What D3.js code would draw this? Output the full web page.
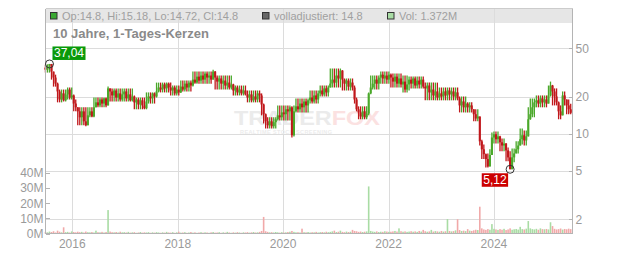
<!DOCTYPE html>
<html lang="de">
<head>
  <meta charset="UTF-8">
  <title>10 Jahre, 1-Tages-Kerzen</title>
  <script src="https://d3js.org/d3.v7.min.js"></script>
  <style>
    body {
      margin: 0;
      background: #fff;
    }

    svg {
      display: block;
      font-family: "Liberation Sans", Arial, sans-serif;
    }

    .grid line {
      stroke: #dcdcdc;
      shape-rendering: crispEdges;
    }

    .axis text {
      fill: #9a9a9a;
      font-size: 12px;
    }

    .frame {
      stroke: #b4b4b4;
      shape-rendering: crispEdges;
    }
  </style>
</head>
<body>
  <div id="chart"></div>

  <script>
    // Kerzen alle 14 Tage, ab Startdatum
    const startDate = "2015-06-29";
    const stepDays = 14;
    const firstOpen = 34.6;

    const closes = [
      33.3, 35.9, 37.04, 32.1, 28.7, 25.6, 22.1, 19.0, 21.3, 18.7,
      20.9, 22.9, 19.7, 20.5, 17.6, 16.4, 15.2, 13.6, 15.2, 12.6,
      11.7, 14.1, 15.2, 13.8, 16.4, 18.0, 17.0, 19.0, 17.6, 19.4,
      17.0, 23.4, 22.1, 20.5, 22.5, 19.7, 21.3, 19.0, 20.9, 22.1,
      19.4, 20.9, 18.7, 20.1, 18.0, 19.0, 17.3, 18.7, 17.0, 16.1,
      18.3, 20.1, 19.4, 21.3, 20.1, 22.1, 23.8, 22.9, 25.2, 23.4,
      25.6, 23.8, 22.5, 23.8, 21.3, 22.9, 21.7, 24.2, 22.9, 25.6,
      23.8, 26.1, 24.7, 27.6, 26.1, 29.2, 27.1, 29.8, 27.6, 30.9,
      28.7, 29.8, 27.6, 32.1, 28.7, 26.6, 28.2, 25.6, 27.1, 24.7,
      26.1, 23.8, 25.2, 22.5, 23.8, 21.7, 22.9, 21.3, 22.5, 20.9,
      19.7, 20.9, 18.7, 20.1, 19.0, 21.3, 20.5, 17.3, 14.4, 12.6,
      11.7, 12.6, 11.5, 12.4, 13.1, 14.1, 13.6, 14.9, 14.4, 15.8,
      15.2, 16.4, 9.7, 15.2, 16.7, 15.8, 17.6, 16.4, 18.3, 17.0,
      18.7, 19.7, 18.3, 20.5, 19.0, 21.3, 22.5, 20.9, 23.4, 21.7,
      23.8, 25.6, 27.6, 26.1, 29.8, 28.2, 32.7, 27.6, 25.6, 27.1,
      24.2, 26.1, 23.8, 19.0, 15.8, 14.9, 13.8, 15.2, 13.6, 14.6,
      21.3, 23.8, 25.6, 27.6, 25.6, 28.7, 30.3, 28.2, 29.8, 27.6,
      30.3, 28.7, 26.6, 29.2, 25.6, 28.2, 25.2, 26.6, 22.9, 25.2,
      27.6, 25.6, 28.2, 24.7, 27.1, 25.2, 27.6, 24.2, 23.4, 24.7,
      21.7, 22.9, 20.5, 22.1, 19.7, 21.3, 20.1, 22.1, 20.5, 22.5,
      20.9, 22.1, 20.1, 21.7, 19.4, 17.0, 18.3, 16.4, 17.6, 16.4,
      17.0, 15.8, 14.4, 13.3, 13.8, 8.65, 7.45, 6.8, 6.2, 5.4,
      6.7, 9.3, 9.9, 9.0, 9.5, 8.5, 8.0, 8.3, 7.3, 6.4,
      5.12, 6.4, 6.9, 7.45, 8.0, 9.0, 9.7, 8.8, 9.5, 13.1,
      14.4, 16.4, 18.0, 18.7, 17.6, 19.4, 18.0, 19.0, 17.6, 20.5,
      24.7, 22.1, 20.1, 18.0, 15.2, 14.1, 20.5, 19.0, 17.0, 15.8,
      14.8
    ];

    const highs = [
      36.5, 36.8, 37.04, 35.2, 30.3, 30.3, 26.1, 22.9, 22.9, 22.9,
      22.9, 23.8, 23.8, 23.8, 20.9, 19.0, 16.4, 16.4, 16.4, 16.4,
      16.4, 16.4, 16.4, 16.4, 19.7, 19.7, 19.7, 19.7, 19.7, 19.7,
      19.7, 24.2, 23.4, 23.4, 23.4, 23.4, 23.4, 23.4, 23.4, 23.4,
      23.4, 23.4, 23.4, 23.4, 20.5, 19.7, 19.7, 19.7, 19.7, 19.7,
      21.7, 21.7, 21.7, 21.7, 21.7, 26.1, 26.1, 26.1, 26.1, 26.1,
      26.1, 26.1, 26.1, 24.7, 24.7, 24.7, 24.7, 27.1, 27.1, 27.1,
      27.1, 27.1, 27.1, 32.1, 32.1, 32.1, 32.1, 32.1, 32.1, 32.1,
      32.1, 32.1, 32.1, 33.3, 32.5, 29.8, 29.8, 29.8, 29.8, 29.8,
      29.8, 29.8, 29.8, 25.6, 24.7, 24.7, 24.7, 24.7, 24.7, 24.7,
      22.5, 22.5, 22.5, 22.5, 22.5, 22.5, 22.5, 21.3, 17.6, 14.6,
      13.6, 13.6, 13.6, 13.6, 13.6, 17.0, 17.0, 17.0, 17.0, 17.0,
      17.0, 17.0, 16.7, 17.0, 19.4, 19.4, 19.4, 19.4, 19.4, 19.4,
      19.4, 22.5, 22.5, 22.5, 22.5, 22.5, 24.7, 24.7, 24.7, 24.7,
      24.7, 34.0, 34.0, 34.0, 34.0, 34.0, 34.0, 33.0, 28.2, 28.2,
      28.2, 28.2, 28.2, 24.7, 19.7, 16.7, 16.7, 16.7, 16.7, 16.7,
      21.7, 29.8, 29.8, 29.8, 29.8, 29.8, 32.1, 32.1, 32.1, 32.1,
      32.1, 30.9, 30.9, 30.9, 30.9, 30.9, 30.9, 29.8, 29.8, 29.8,
      29.2, 29.2, 29.2, 29.2, 29.2, 29.2, 29.2, 29.2, 26.1, 26.1,
      26.1, 26.1, 26.1, 26.1, 26.1, 23.8, 23.8, 23.8, 23.8, 23.8,
      23.8, 23.8, 23.8, 23.8, 23.8, 20.1, 20.1, 20.1, 20.1, 18.0,
      18.0, 18.0, 15.8, 15.8, 15.8, 13.8, 8.9, 8.15, 6.9, 6.9,
      7.45, 10.2, 10.4, 10.4, 10.4, 9.6, 9.15, 9.15, 8.4, 7.7,
      7.2, 7.55, 7.55, 8.65, 8.65, 11.0, 11.0, 10.6, 10.6, 16.4,
      19.4, 19.4, 19.4, 20.5, 20.5, 20.5, 20.5, 20.5, 20.5, 24.7,
      26.6, 25.0, 23.4, 23.4, 18.3, 17.0, 22.1, 22.1, 19.0, 19.0,
      17.5
    ];

    const lows = [
      31.5, 31.5, 31.5, 27.6, 24.2, 24.2, 18.0, 18.0, 18.0, 18.3,
      18.3, 19.0, 19.0, 19.0, 15.2, 15.2, 11.7, 11.7, 11.7, 11.7,
      11.5, 13.6, 13.6, 13.6, 13.6, 16.4, 16.4, 16.4, 16.4, 16.4,
      16.4, 17.0, 18.3, 18.3, 18.3, 18.3, 18.3, 18.3, 18.3, 18.3,
      18.3, 18.3, 18.3, 18.3, 15.8, 15.8, 15.8, 15.8, 15.8, 15.8,
      15.8, 17.6, 17.6, 17.6, 17.6, 19.7, 21.7, 21.7, 21.7, 21.7,
      21.7, 21.7, 20.5, 20.5, 20.5, 20.5, 20.5, 21.5, 22.1, 22.1,
      22.1, 22.1, 22.1, 24.2, 25.6, 25.6, 25.6, 25.6, 25.6, 25.6,
      25.6, 25.6, 25.6, 27.6, 22.9, 22.9, 22.9, 22.9, 22.9, 22.9,
      22.9, 22.9, 22.9, 20.5, 20.5, 20.5, 20.5, 20.5, 20.5, 20.5,
      18.0, 18.0, 18.0, 18.0, 18.0, 18.0, 18.0, 14.1, 12.1, 11.0,
      11.0, 11.0, 11.0, 11.0, 11.0, 12.8, 12.8, 12.8, 12.8, 12.8,
      12.8, 12.8, 9.3, 9.5, 14.9, 14.9, 14.9, 14.9, 14.9, 14.9,
      14.9, 17.6, 17.6, 17.6, 17.6, 17.6, 20.1, 20.1, 20.1, 20.1,
      20.1, 23.8, 23.8, 23.8, 23.8, 23.8, 23.8, 22.5, 22.5, 22.5,
      22.5, 22.5, 22.5, 17.6, 15.2, 13.1, 13.1, 13.1, 13.1, 13.1,
      14.1, 21.0, 22.9, 22.9, 22.9, 22.9, 25.6, 25.6, 25.6, 25.6,
      25.6, 23.8, 23.8, 23.8, 23.8, 23.8, 23.8, 21.7, 21.7, 21.7,
      22.5, 23.4, 23.4, 23.4, 23.4, 23.4, 23.4, 23.4, 18.7, 18.7,
      18.7, 18.7, 18.7, 18.7, 18.7, 18.7, 18.7, 18.7, 18.7, 18.7,
      18.7, 18.7, 18.7, 18.7, 18.7, 14.9, 14.9, 14.9, 14.9, 14.9,
      14.9, 14.9, 12.6, 12.6, 12.6, 8.0, 6.2, 6.2, 5.3, 5.3,
      5.4, 6.7, 8.3, 8.3, 8.3, 7.2, 7.2, 7.2, 5.95, 5.95,
      5.12, 5.12, 5.85, 6.9, 6.9, 8.15, 8.15, 8.0, 8.0, 9.5,
      13.0, 13.6, 13.6, 16.4, 16.4, 16.4, 16.4, 16.4, 16.4, 17.6,
      20.1, 17.0, 17.0, 17.0, 13.1, 13.1, 14.1, 17.0, 14.4, 14.4,
      14.4
    ];

    // Volumen in Mio. Stück
    const volumes = [
      1.2, 0.9, 1.4, 1.1, 1.6, 0.8, 2.0, 1.3, 0.9, 4.2, 1.0, 1.2, 0.8, 1.5, 1.1, 0.9, 1.3, 1.0, 1.2, 0.8,
      1.4, 1.0, 0.9, 1.1, 0.8, 2.0, 1.0, 0.9, 1.2, 0.8, 1.1, 15.5, 1.4, 1.0, 0.9, 1.1, 0.8, 1.3, 0.9, 1.0,
      0.8, 1.2, 0.7, 0.9, 1.0, 0.6, 0.8, 1.1, 0.7, 0.9, 0.8, 1.0, 0.6, 0.9, 0.7, 1.0, 0.8, 0.6, 0.9, 0.7,
      1.2, 0.8, 0.7, 1.0, 0.6, 0.9, 1.3, 0.7, 0.8, 1.0, 0.6, 0.8, 1.1, 0.7, 0.9, 0.6, 0.8, 1.0, 0.7, 0.9,
      0.8, 0.6, 0.9, 1.1, 0.7, 0.8, 1.0, 0.6, 0.9, 0.7, 1.2, 0.8, 0.6, 0.9, 0.7, 1.0, 0.8, 0.6, 0.9, 0.8,
      1.0, 0.7, 0.9, 1.1, 0.8, 0.9, 1.2, 1.8, 11.0, 1.6, 1.2, 0.9, 1.0, 0.8, 1.1, 0.9, 0.7, 1.0, 0.8, 0.9,
      1.1, 1.3, 1.8, 1.2, 0.9, 1.0, 0.8, 3.3, 1.0, 0.9, 1.1, 0.8, 1.0, 0.9, 1.2, 0.8, 1.0, 1.1, 0.9, 1.3,
      1.0, 1.2, 1.5, 2.0, 1.1, 1.3, 2.0, 1.2, 1.0, 1.4, 1.1, 1.3, 2.5, 1.8, 1.6, 1.2, 1.4, 1.1, 1.3, 1.5,
      31.0, 1.8, 1.4, 1.2, 1.5, 1.1, 1.3, 1.2, 1.6, 1.4, 1.2, 1.3, 1.5, 1.8, 1.4, 3.5, 1.6, 1.3, 1.5, 1.2,
      1.4, 1.6, 1.3, 1.5, 1.2, 1.8, 1.4, 2.5, 1.6, 1.3, 1.5, 2.5, 1.4, 1.7, 1.5, 1.3, 1.8, 1.4, 1.6, 9.6,
      1.8, 1.5, 1.7, 2.2, 9.5, 2.4, 1.8, 2.0, 1.7, 3.0, 2.0, 1.8, 2.2, 2.6, 2.4, 17.7, 3.5, 2.8, 2.5, 3.0,
      2.6, 6.3, 3.2, 2.8, 2.5, 3.0, 2.6, 3.2, 2.4, 2.8, 3.5, 2.6, 2.9, 3.1, 2.7, 4.5, 3.0, 2.8, 3.3, 8.3,
      3.5, 3.0, 2.8, 3.2, 2.6, 3.5, 3.0, 2.9, 3.1, 2.8, 7.5, 5.0, 3.2, 2.8, 3.0, 3.4, 2.7, 3.1, 2.9, 3.3, 3.0
    ];

    const priceTicks = [2, 5, 10, 20, 50];
    const volumeTicks = [0, 10, 20, 30, 40];
    const yearTicks = [2016, 2018, 2020, 2022, 2024];
    const legendTexts = ["Op:14.8, Hi:15.18, Lo:14.72, Cl:14.8", "volladjustiert: 14.8", "Vol: 1.372M"];
    const title = "10 Jahre, 1-Tages-Kerzen";

    const width = 632;
    const height = 253;
    const plotLeft = 45.5, plotRight = 572.5, plotTop = 8.5, plotBottom = 233.5;

    const svg = d3.select("#chart")
      .append("svg")
      .attr("width", width)
      .attr("height", height);

    const x = d3.scaleUtc()
      .domain([new Date(Date.UTC(2015, 5, 28)), new Date(Date.UTC(2025, 5, 27))])
      .range([45.3, 572.3]);

    const y = d3.scaleLog()
      .domain([2, 50])
      .range([219.3, 48]);

    const yVol = d3.scaleLinear()
      .domain([0, 40])
      .range([233.7, 172.7]);

    const start = new Date(startDate + "T00:00:00Z");
    const candles = closes.map((c, i) => ({
      date: d3.utcDay.offset(start, i * stepDays),
      open: i ? closes[i - 1] : firstOpen,
      close: c,
      high: highs[i],
      low: lows[i],
      volume: volumes[i]
    }));

    const up = d => d.close >= d.open;

    // Gitter
    const grid = svg.append("g").attr("class", "grid");
    grid.selectAll(".vg")
      .data(yearTicks)
      .enter()
      .append("line")
      .attr("x1", d => Math.round(x(new Date(Date.UTC(d, 0, 1)))) + 0.5)
      .attr("x2", d => Math.round(x(new Date(Date.UTC(d, 0, 1)))) + 0.5)
      .attr("y1", plotTop)
      .attr("y2", plotBottom);

    grid.selectAll(".hg")
      .data(priceTicks)
      .enter()
      .append("line")
      .attr("x1", plotLeft)
      .attr("x2", plotRight)
      .attr("y1", d => Math.round(y(d)) + 0.5)
      .attr("y2", d => Math.round(y(d)) + 0.5);

    // Header-Leiste
    svg.append("rect")
      .attr("x", plotLeft)
      .attr("y", plotTop)
      .attr("width", plotRight - plotLeft)
      .attr("height", 14.5)
      .attr("fill", "#e6e6e6");

    // Gitterlinien laufen durch die Leiste
    grid.raise();

    // Wasserzeichen
    const wm = svg.append("text")
      .attr("x", 234)
      .attr("y", 125)
      .attr("font-size", 21)
      .attr("font-weight", "bold")
      .attr("textLength", 146)
      .attr("lengthAdjust", "spacingAndGlyphs");
    wm.append("tspan").attr("fill", "#ebebeb").text("TRADER");
    wm.append("tspan").attr("fill", "#fbe1e1").text("FOX");
    svg.append("text")
      .attr("x", 240)
      .attr("y", 133.5)
      .attr("font-size", 5.5)
      .attr("font-weight", "bold")
      .attr("fill", "#ececec")
      .attr("textLength", 92)
      .text("REALTIME STOCK SCREENING");

    // Volumen
    svg.append("g")
      .selectAll("rect")
      .data(candles)
      .enter()
      .append("rect")
      .attr("x", d => x(d.date) - 0.8)
      .attr("width", 1.6)
      .attr("y", d => yVol(d.volume))
      .attr("height", d => yVol(0) - yVol(d.volume))
      .attr("fill", d => up(d) ? "#a9dca4" : "#f1a9a9");

    // Kerzen: Docht + Körper
    const candleG = svg.append("g");
    candleG.selectAll("line")
      .data(candles)
      .enter()
      .append("line")
      .attr("x1", d => x(d.date))
      .attr("x2", d => x(d.date))
      .attr("y1", d => y(Math.max(d.high, d.open, d.close)))
      .attr("y2", d => y(Math.min(d.low, d.open, d.close)))
      .attr("stroke", d => up(d) ? "#4aa82a" : "#c0171b")
      .attr("stroke-width", 1.3);

    candleG.selectAll("rect")
      .data(candles)
      .enter()
      .append("rect")
      .attr("x", d => x(d.date) - 1.05)
      .attr("width", 2.1)
      .attr("y", d => y(Math.max(d.open, d.close)))
      .attr("height", d => Math.max(1, Math.abs(y(d.open) - y(d.close))))
      .attr("fill", d => up(d) ? "#4aa82a" : "#c0171b");

    // Rahmen
    svg.append("line").attr("class", "frame")
      .attr("x1", plotLeft).attr("x2", plotRight).attr("y1", plotTop).attr("y2", plotTop)
      .style("stroke", "#cccccc");
    svg.append("line").attr("class", "frame")
      .attr("x1", plotLeft).attr("x2", plotLeft).attr("y1", plotTop).attr("y2", plotBottom);
    svg.append("line").attr("class", "frame")
      .attr("x1", plotRight).attr("x2", plotRight).attr("y1", plotTop).attr("y2", plotBottom);
    svg.append("line").attr("class", "frame")
      .attr("x1", plotLeft).attr("x2", plotRight).attr("y1", plotBottom).attr("y2", plotBottom);

    // Achsen
    const axisR = svg.append("g").attr("class", "axis");
    axisR.selectAll("line")
      .data(priceTicks)
      .enter()
      .append("line")
      .attr("class", "frame")
      .attr("x1", plotRight - 4)
      .attr("x2", plotRight)
      .attr("y1", d => Math.round(y(d)) + 0.5)
      .attr("y2", d => Math.round(y(d)) + 0.5);
    axisR.selectAll("text")
      .data(priceTicks)
      .enter()
      .append("text")
      .attr("x", 575.5)
      .attr("y", d => y(d) + 4.5)
      .text(d => d);

    const axisL = svg.append("g").attr("class", "axis");
    axisL.selectAll("line")
      .data(volumeTicks)
      .enter()
      .append("line")
      .attr("class", "frame")
      .attr("x1", plotLeft)
      .attr("x2", plotLeft + 4.5)
      .attr("y1", d => Math.round(yVol(d)) + 0.5)
      .attr("y2", d => Math.round(yVol(d)) + 0.5);
    axisL.selectAll("text")
      .data(volumeTicks)
      .enter()
      .append("text")
      .attr("x", 43.5)
      .attr("y", d => yVol(d) + 4.5)
      .attr("text-anchor", "end")
      .text(d => d + "M");

    const axisB = svg.append("g").attr("class", "axis");
    axisB.selectAll("text")
      .data(yearTicks)
      .enter()
      .append("text")
      .attr("x", d => x(new Date(Date.UTC(d, 0, 1))))
      .attr("y", 247.5)
      .attr("text-anchor", "middle")
      .text(d => d);

    // Legende
    const legendX = [50.5, 262.5, 387.5];
    const legendFill = ["#3aa832", "#666666", "#a9dca4"];
    const legend = svg.append("g");
    legendTexts.forEach((t, i) => {
      legend.append("rect")
        .attr("x", legendX[i])
        .attr("y", 12.5)
        .attr("width", 6.5)
        .attr("height", 6.5)
        .attr("fill", legendFill[i])
        .attr("stroke", "#333")
        .attr("stroke-width", 1);
      legend.append("text")
        .attr("x", legendX[i] + 11.5)
        .attr("y", 20)
        .attr("font-size", 11)
        .attr("fill", "#a0a0a0")
        .text(t);
    });

    svg.append("text")
      .attr("x", 53)
      .attr("y", 38)
      .attr("font-size", 13)
      .attr("font-weight", "bold")
      .attr("fill", "#8a8a8a")
      .text(title);

    // Hoch / Tief markieren
    const fmt = v => d3.format(".2f")(v).replace(".", ",");
    const hi = candles.reduce((a, b) => (b.high > a.high ? b : a));
    const lo = candles.reduce((a, b) => (b.low < a.low ? b : a));

    function marker(d, v, isHigh) {
      const cx = x(d.date);
      const cy = y(v);
      svg.append("circle")
        .attr("cx", cx)
        .attr("cy", cy)
        .attr("r", 4)
        .attr("fill", "none")
        .attr("stroke", "#333")
        .attr("stroke-width", 1);

      const g = svg.append("g");
      const rect = g.append("rect").attr("fill", isHigh ? "#0a9a0a" : "#cc0000");
      const txt = g.append("text")
        .attr("font-size", 12)
        .attr("fill", "#fff")
        .text(fmt(v));
      const w = txt.node().getComputedTextLength() + 3;
      const bx = isHigh ? cx + 3 : cx - 2 - w;
      const by = isHigh ? cy - 17.5 : cy + 4;
      rect.attr("x", bx).attr("y", by).attr("width", w).attr("height", 13.5);
      txt.attr("x", bx + 1.5).attr("y", by + 11);
    }

    marker(hi, hi.high, true);
    marker(lo, lo.low, false);
  </script>
</body>
</html>
